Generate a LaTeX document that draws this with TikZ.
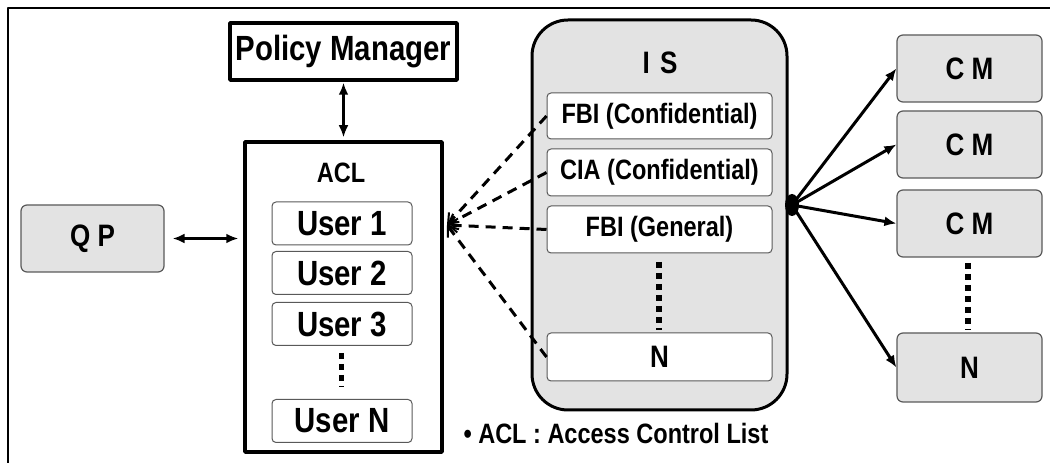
\documentclass[tikz,border=0pt]{standalone}
\usepackage{fontspec}
\setmainfont{Liberation Sans}[FakeStretch=0.84]
\usetikzlibrary{arrows.meta}
\definecolor{boxfill}{rgb}{0.89,0.89,0.89}
\definecolor{edgegray}{rgb}{0.35,0.35,0.35}
\tikzset{
  thickbox/.style={draw=black,line width=3.5bp,minimum width=#1},
  listitem/.style={draw=edgegray,line width=1bp,fill=white,rounded corners=4bp,inner sep=0pt},
  grayitem/.style={draw=edgegray,line width=1.2bp,fill=boxfill,rounded corners=6bp,inner sep=0pt},
  dotcol/.style={line width=6bp,dash pattern=on 6bp off 5bp},
  accessline/.style={line width=3bp,dash pattern=on 10bp off 7bp},
  txtL/.style={font=\fontsize{35bp}{35bp}\selectfont\bfseries},
  txtM/.style={font=\fontsize{31bp}{31bp}\selectfont\bfseries},
  txtS/.style={font=\fontsize{28bp}{28bp}\selectfont\bfseries},
}
\begin{document}
\begin{tikzpicture}[>={Latex[length=12bp,width=10bp]},line join=bevel]
  \useasboundingbox (0bp,0bp) rectangle (1050bp,463bp);
  % frame
  \draw[line width=1.5bp] (8bp,0bp) |- (1050bp,455bp);
%%
  % Node: Policy Manager
  \node[thickbox=227bp,minimum height=57bp,txtL,inner sep=0pt] (pm) at (343.5bp,411.5bp) {Policy Manager};
  % Node: ACL
  \node[thickbox=197bp,minimum height=310bp] (acl) at (343.5bp,166bp) {};
  \node[txtS] (acltitle) at (341bp,290bp) {ACL};
  % Node: users
  \node[listitem,minimum width=140bp,minimum height=43bp,txtL] (u1) at (342bp,239.5bp) {User 1};
  \node[listitem,minimum width=140bp,minimum height=43bp,txtL] (u2) at (342bp,190bp) {User 2};
  \node[listitem,minimum width=140bp,minimum height=43bp,txtL] (u3) at (342bp,139bp) {User 3};
  \node[listitem,minimum width=140bp,minimum height=43bp,txtL] (un) at (342bp,42bp) {User N};
  \draw[dotcol,line width=5bp] (341bp,110bp) -- (341bp,76bp);
  % Node: QP
  \node[grayitem,minimum width=143bp,minimum height=67bp,txtM] (qp) at (92.5bp,224.5bp) {Q P};
  % Node: IS
  \node[draw=black,line width=3bp,fill=boxfill,rounded corners=36bp,minimum width=255bp,minimum height=390bp] (is) at (659.5bp,248bp) {};
  \node[txtM] (istitle) at (660bp,400bp) {I\,\,S};
  \node[listitem,minimum width=225bp,minimum height=46bp,txtS] (fbic) at (659.5bp,347bp) {FBI (Confidential)};
  \node[listitem,minimum width=225bp,minimum height=47bp,txtS] (ciac) at (659.5bp,290.5bp) {CIA (Confidential)};
  \node[listitem,minimum width=225bp,minimum height=47bp,txtS] (fbig) at (659.5bp,233.5bp) {FBI (General)};
  \node[listitem,minimum width=225bp,minimum height=48bp,txtM] (isn) at (659.5bp,106bp) {N};
  \draw[dotcol] (659bp,201bp) -- (659bp,133bp);
  % Node: CM
  \node[grayitem,minimum width=145bp,minimum height=67bp,txtM] (cm1) at (969.5bp,394.5bp) {C M};
  \node[grayitem,minimum width=145bp,minimum height=67bp,txtM] (cm2) at (969.5bp,318.5bp) {C M};
  \node[grayitem,minimum width=145bp,minimum height=67bp,txtM] (cm3) at (969.5bp,239.5bp) {C M};
  \node[grayitem,minimum width=145bp,minimum height=69bp,txtM] (cmn) at (969.5bp,95.5bp) {N};
  \draw[dotcol] (968bp,200bp) -- (968bp,133bp);
  % Node: legend
  \node[txtS,anchor=west] (legend) at (460bp,30bp) {• ACL : Access Control List};
%%
  % Edge: pm <-> acl
  \draw[<->,line width=3bp,shorten <=1bp,shorten >=3bp] (pm.south) -- (acl.north);
  % Edge: qp <-> acl
  \draw[<->,line width=3bp,shorten <=8bp,shorten >=5bp] (qp.east) -- (qp.east -| acl.west);
  % Edge: IS items -> acl
  \coordinate (aclport) at (447bp,238bp);
  \foreach \item in {fbic,ciac,fbig,isn}
    \draw[accessline,->,>={Straight Barb[length=9bp,width=14bp,line width=2bp]}] (\item.west) -- (aclport);
  % Edge: is -> cm
  \coordinate (hub) at (792bp,258bp);
  \fill (hub) ellipse (7bp and 11bp);
  \foreach \cm in {cm1,cm2,cm3,cmn}
    \draw[->,line width=3bp] (hub) -- (\cm.west);
%
\end{tikzpicture}
\end{document}
